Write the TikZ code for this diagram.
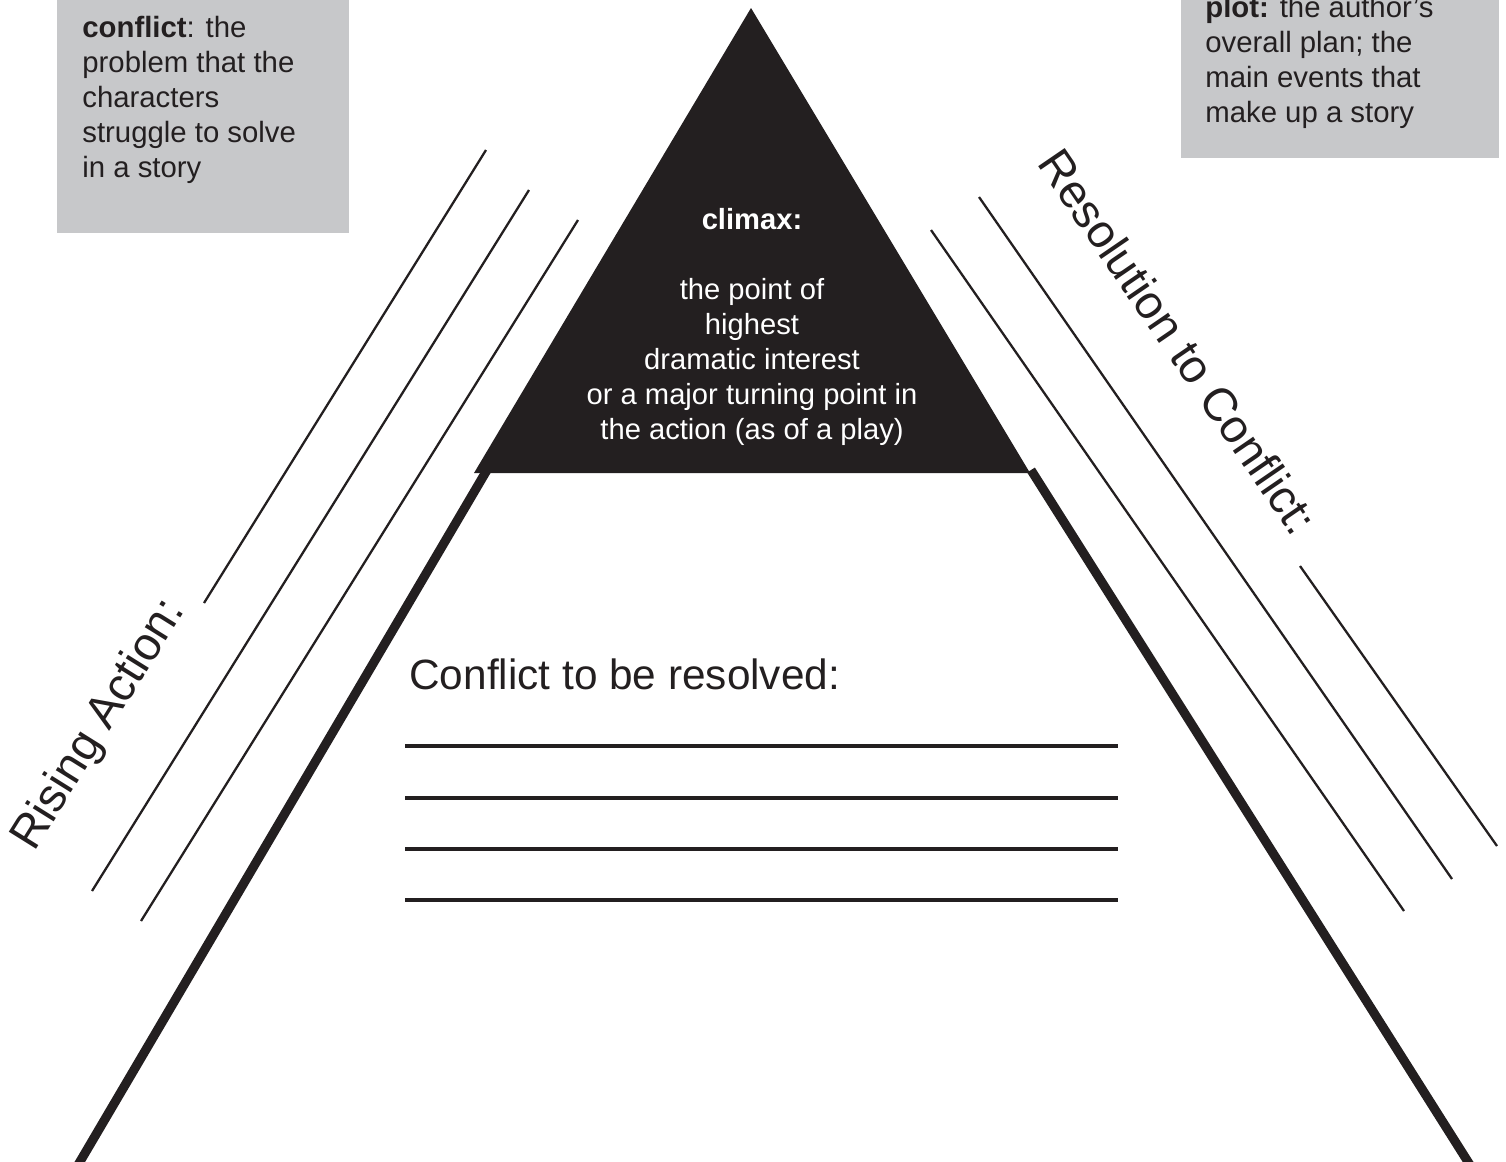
\documentclass[tikz,border=0pt]{standalone}
\usepackage{fontspec}
\setmainfont{Liberation Sans}
\definecolor{ink}{HTML}{231F20}
\definecolor{boxgray}{HTML}{C7C8CA}

\begin{document}
\begin{tikzpicture}[x=0.02cm, y=-0.02cm,
    thin rule/.style={draw=ink, line width=1.3pt},
    thick rule/.style={draw=ink, line width=5.2pt},
    underline/.style={draw=ink, line width=2.2pt},
    boxtext/.style={anchor=base west, inner sep=0pt, align=left, text=ink, font=\fontsize{16.7}{19.85}\selectfont},
    slanted/.style={anchor=base west, inner sep=0pt, text=ink, font=\fontsize{26.6}{30}\selectfont}]
    \clip (0,0) rectangle (1506,1161);

    \def\blank#1{
        \draw[underline] (405,#1) -- (1118,#1);
    }

    % Definition boxes (node base = last line)
    \fill[boxgray] (57,0) rectangle (349,233);
    \fill[boxgray] (1181,0) rectangle (1499,158);
    \node[boxtext] (conflictdef) at (82,177) {\textbf{conflict}: the\\problem that the\\characters\\struggle to solve\\in a story};
    \node[boxtext] (plotdef) at (1205,122) {\textbf{plot:} the author’s\\overall plan; the\\main events that\\make up a story};

    % Writing lines beside the pyramid
    \draw[thin rule] (204,603) -- (486,150);
    \draw[thin rule] (92,891) -- (529,190);
    \draw[thin rule] (141,921) -- (578,220);
    \draw[thin rule] (979,197) -- (1452,879);
    \draw[thin rule] (931,230) -- (1404,911);
    \draw[thin rule] (1300,566) -- (1497,846);

    \node[slanted, rotate=58] (rising) at (34,853) {Rising Action:};
    \node[slanted, rotate=-55.6] (resolution) at (1036,163) {Resolution to Conflict:};

    % Pyramid sides
    \draw[thick rule] (487,470) -- (78,1165);
    \draw[thick rule] (1031,470) -- (1470,1165);

    % Climax triangle
    \fill[ink] (751,8) -- (1030,473) -- (474,473) -- cycle;
    \node[anchor=base, inner sep=0pt, align=center, text=white, font=\fontsize{16.6}{19.85}\selectfont] (climax) at (752,439)
        {\textbf{climax:}\\[19.85pt]the point of\\highest\\dramatic interest\\or a major turning point in\\the action (as of a play)};

    % Conflict to be resolved
    \node[anchor=base west, inner sep=0pt, text=ink, font=\fontsize{24.1}{29}\selectfont] (tobe) at (409,689) {Conflict to be resolved:};
    \blank{746}
    \blank{798}
    \blank{849}
    \blank{900}
\end{tikzpicture}
\end{document}
